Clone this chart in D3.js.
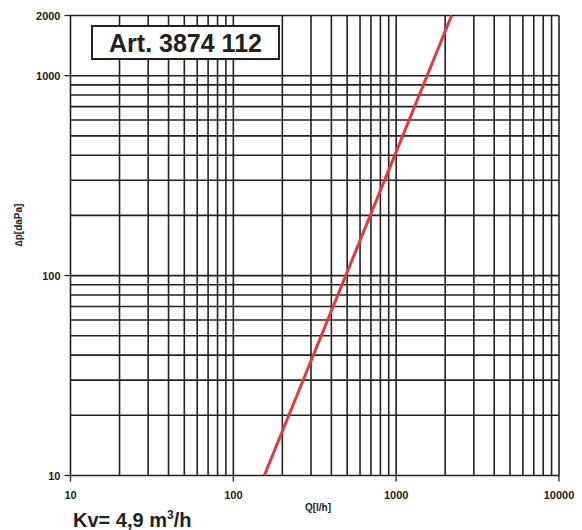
<!DOCTYPE html>
<html>
<head>
<meta charset="utf-8">
<script src="https://cdn.jsdelivr.net/npm/d3@7"></script>
<style>
body{margin:0;background:#fff;}
text{font-family:"Liberation Sans",Arial,sans-serif;font-weight:bold;fill:#222;}
</style>
</head>
<body>
<svg id="chart"></svg>
<script>
const width=582;
const height=530;

// pressure drop curve
const flow=[155,1000,2190];      // Q [l/h]
const dp=[10,416,2000];          // dp [daPa]
const xTicks=[10,100,1000,10000];
const yTicks=[10,100,1000,2000];
const title='Art. 3874 112';

const svg=d3.select('#chart')
	.attr('width',width)
	.attr('height',height);

const x=d3.scaleLog().domain([10,10000]).range([70.5,559]);
const y=d3.scaleLog().domain([10,2000]).range([475.5,15.5]);

// grid lines 1..9 per decade
const xGrid=[];
for(let d=10;d<10000;d*=10){ for(let k=1;k<10;k++) xGrid.push(d*k); }
xGrid.push(10000);
const yGrid=[];
for(let d=10;d<1000;d*=10){ for(let k=1;k<10;k++) yGrid.push(d*k); }
yGrid.push(1000,2000);

svg.append('g').selectAll('line')
	.data(xGrid)
	.enter().append('line')
	.attr('x1',d=>x(d)).attr('x2',d=>x(d))
	.attr('y1',y(2000)).attr('y2',y(10))
	.attr('stroke','#222').attr('stroke-width',1.6);

svg.append('g').selectAll('line')
	.data(yGrid)
	.enter().append('line')
	.attr('x1',x(10)).attr('x2',x(10000))
	.attr('y1',d=>y(d)).attr('y2',d=>y(d))
	.attr('stroke','#222').attr('stroke-width',1.6);

// ticks and labels
svg.append('g').selectAll('line')
	.data(yTicks)
	.enter().append('line')
	.attr('x1',x(10)-6).attr('x2',x(10))
	.attr('y1',d=>y(d)).attr('y2',d=>y(d))
	.attr('stroke','#222').attr('stroke-width',1.3);

svg.append('g').selectAll('text')
	.data(yTicks)
	.enter().append('text')
	.attr('x',x(10)-10)
	.attr('y',d=>y(d)+4)
	.attr('text-anchor','end')
	.attr('font-size',11)
	.text(d=>d);

svg.append('g').selectAll('line')
	.data(xTicks)
	.enter().append('line')
	.attr('x1',d=>x(d)).attr('x2',d=>x(d))
	.attr('y1',y(10)).attr('y2',y(10)+6)
	.attr('stroke','#222').attr('stroke-width',1.3);

svg.append('g').selectAll('text')
	.data(xTicks)
	.enter().append('text')
	.attr('x',d=>x(d))
	.attr('y',y(10)+23)
	.attr('text-anchor','middle')
	.attr('font-size',11)
	.text(d=>d);

svg.append('text')
	.attr('x',318).attr('y',511)
	.attr('text-anchor','middle')
	.attr('font-size',10)
	.text('Q[l/h]');

svg.append('text')
	.attr('transform','translate(22,225) rotate(-90)')
	.attr('text-anchor','middle')
	.attr('font-size',10)
	.text('\u2206p[daPa]');

// curve
const line=d3.line().x(d=>x(d[0])).y(d=>y(d[1]));
svg.append('path')
	.datum(flow.map((q,i)=>[q,dp[i]]))
	.attr('d',line)
	.attr('fill','none')
	.attr('stroke','#e23a40')
	.attr('stroke-width',3);

// title box
svg.append('rect')
	.attr('x',92).attr('y',26)
	.attr('width',187).attr('height',33)
	.attr('fill','#fff')
	.attr('stroke','#222').attr('stroke-width',2);
svg.append('text')
	.attr('x',185.5).attr('y',52)
	.attr('text-anchor','middle')
	.attr('font-size',25)
	.text(title);

const kv=svg.append('text')
	.attr('x',73).attr('y',527)
	.attr('font-size',20);
kv.append('tspan').text('Kv= 4,9 m');
kv.append('tspan').attr('font-size',12).attr('dy',-8).text('3');
kv.append('tspan').attr('dy',8).text('/h');
</script>
</body>
</html>
